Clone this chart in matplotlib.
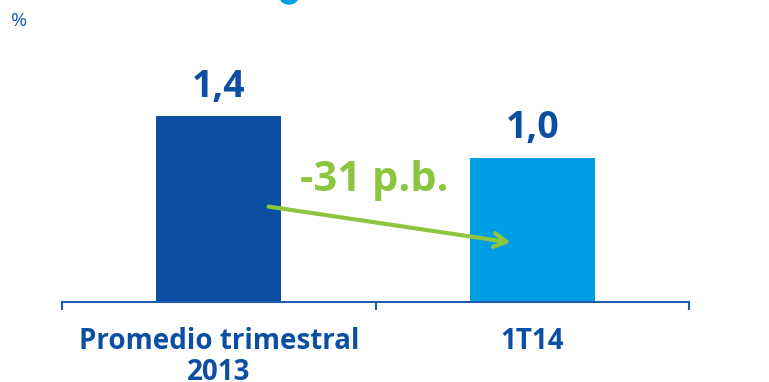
import matplotlib
matplotlib.use("Agg")
import matplotlib.pyplot as plt
from matplotlib.patches import Ellipse

# datos
categorias = ["Promedio trimestral\n2013", "1T14"]
valores = [1.38, 1.07]
etiquetas = ["1,4", "1,0"]
variacion = "-31 p.b."
unidad = "%"

azul_osc = "#0b4fa3"
azul_cla = "#009fe3"
verde = "#8cc63f"
eje_col = "#1f5aab"

fig = plt.figure(figsize=(7.69, 3.82), dpi=100)
ax = fig.add_axes([62/769, 80/382, 627/769, 302/382])

x = list(range(len(categorias)))
ax.bar(x, valores, width=0.4, color=[azul_osc, azul_cla])
ax.set_xlim(-0.5, 1.5)
ax.set_ylim(0, 302/134.8)

for s in ["top", "right", "left"]:
    ax.spines[s].set_visible(False)
ax.spines["bottom"].set_color(eje_col)
ax.spines["bottom"].set_linewidth(1.5)
ax.set_yticks([])
ax.set_xticks([-0.5, 0.5, 1.5])
ax.set_xticklabels([])
ax.tick_params(axis="x", direction="out", length=6, width=1.5, color=eje_col)

# etiquetas de categoria
for xi, c in zip(x, categorias):
    ax.annotate(c, (xi, 0), xytext=(0, -18), textcoords="offset points",
                ha="center", va="top", fontsize=20, fontweight="bold",
                color=azul_osc, linespacing=1.1,
                family=["Open Sans", "DejaVu Sans"])

# valores encima de las barras
for xi, v, t in zip(x, valores, etiquetas):
    ax.annotate(t, (xi, v), xytext=(0, 14), textcoords="offset points",
                ha="center", va="baseline", fontsize=27, fontweight="bold",
                color=azul_osc, family=["Open Sans", "DejaVu Sans"])

# flecha de variacion
ax.annotate("", xy=(x[1] - 0.06, valores[1] * 0.41), xytext=(x[0] + 0.15, valores[0] * 0.515),
            arrowprops=dict(arrowstyle="->,head_length=0.9,head_width=0.5",
                            color=verde, lw=3))
ax.text(0.495, (302 - 191) / 134.8, variacion, ha="center", va="baseline",
        fontsize=30, fontweight="bold", color=verde,
        family=["Open Sans", "DejaVu Sans"])

fig.text(11/769, 1 - 21/382, unidad, ha="left", va="center", fontsize=14,
         color=eje_col, family=["Open Sans", "DejaVu Sans"])

# trozo de titulo cortado arriba
fig.patches.append(Ellipse((289/769, 1 + 3/382), 18/769, 14/382, color=azul_cla,
                           transform=fig.transFigure, figure=fig))

fig.savefig("out.png", dpi=100)
